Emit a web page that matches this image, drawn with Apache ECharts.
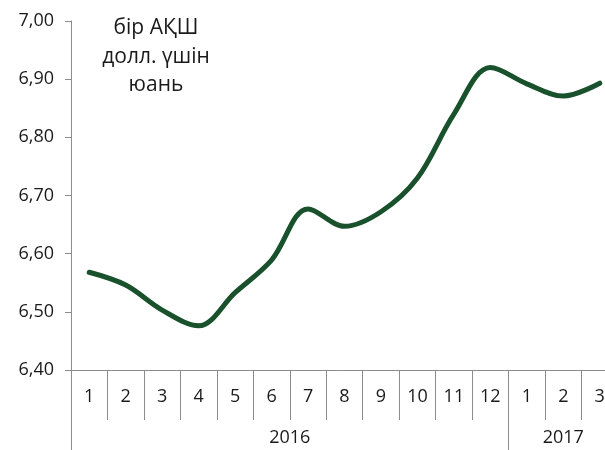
<!DOCTYPE html>
<html>
<head>
<meta charset="utf-8">
<script src="https://cdn.jsdelivr.net/npm/echarts@6/dist/echarts.min.js"></script>
<style>
	html,body{margin:0;padding:0;background:#fff;}
	#rate{width:605px;height:450px;}
</style>
</head>
<body>
<div id="rate"></div>
<script>
// месяцы (2016: 1-12, 2017: 1-3)
var months=['1','2','3','4','5','6','7','8','9','10','11','12','1','2','3']
// юань за 1 доллар США
var yuan=[6.568,6.546,6.503,6.476,6.533,6.589,6.677,6.647,6.672,6.730,6.840,6.920,6.892,6.871,6.893]
var years=['2016','2017']
var yearSpans=[12,3]
var yTicks=[6.40,6.50,6.60,6.70,6.80,6.90,7.00]

// границы и центры годов на шкале 0..15
var yearEdges=[0],yearMids=[]
var acc=0
for(var k=0;k<yearSpans.length;k++){
	yearMids.push(acc+yearSpans[k]/2)
	acc+=yearSpans[k]
	yearEdges.push(acc)
}

var fontName='Open Sans'
var grey='#8c8c8c'

var chart=echarts.init(document.getElementById('rate'))
var option={
	animation:false,
	title:{
		text:'бір АҚШ\nдолл. үшін\nюань',
		left:151,
		top:9,
		textAlign:'center',
		textStyle:{
			color:'#1a1a1a',
			fontFamily:fontName,
			fontSize:21,
			fontWeight:'normal',
			lineHeight:28.5
		}
	},
	grid:{
		left:71,
		top:21,
		bottom:80,
		width:547,//right part is cut off in the source
		outerBoundsMode:'none',
		containLabel:false
	},
	xAxis:[
		{
			type:'category',
			data:months,
			boundaryGap:true,
			position:'bottom',
			axisLine:{show:true,lineStyle:{color:grey,width:1}},
			axisTick:{
				show:true,
				interval:0,
				length:50,
				lineStyle:{color:grey,width:1}
			},
			axisLabel:{
				interval:0,
				margin:18,
				color:'#1a1a1a',
				fontFamily:fontName,
				fontSize:18
			},
			splitLine:{show:false}
		},
		{
			// подписи годов
			type:'value',
			min:0,
			max:months.length,
			position:'bottom',
			axisLine:{show:false},
			axisTick:{
				show:true,
				length:80,
				customValues:yearEdges.slice(0,yearEdges.length-1),
				lineStyle:{color:grey,width:1}
			},
			axisLabel:{
				show:true,
				margin:59,
				customValues:yearMids,
				formatter:function(v){
					var idx=yearMids.indexOf(v)
					return idx>=0?years[idx]:''
				},
				color:'#1a1a1a',
				fontFamily:fontName,
				fontSize:18
			},
			splitLine:{show:false}
		}
	],
	yAxis:{
		type:'value',
		min:yTicks[0],
		max:yTicks[yTicks.length-1],
		interval:0.1,
		axisLine:{show:true,lineStyle:{color:grey,width:1}},
		axisTick:{show:true,length:6,lineStyle:{color:grey,width:1}},
		axisLabel:{
			margin:17,
			color:'#1a1a1a',
			fontFamily:fontName,
			fontSize:18,
			formatter:function(v){return v.toFixed(2).replace('.',',')}
		},
		splitLine:{show:false}
	},
	series:[
		{
			type:'line',
			xAxisIndex:0,
			data:yuan,
			smooth:0.35,
			showSymbol:false,
			symbol:'none',
			lineStyle:{color:'#18512b',width:5,cap:'round'}
		}
	]
}
chart.setOption(option)
</script>
</body>
</html>
